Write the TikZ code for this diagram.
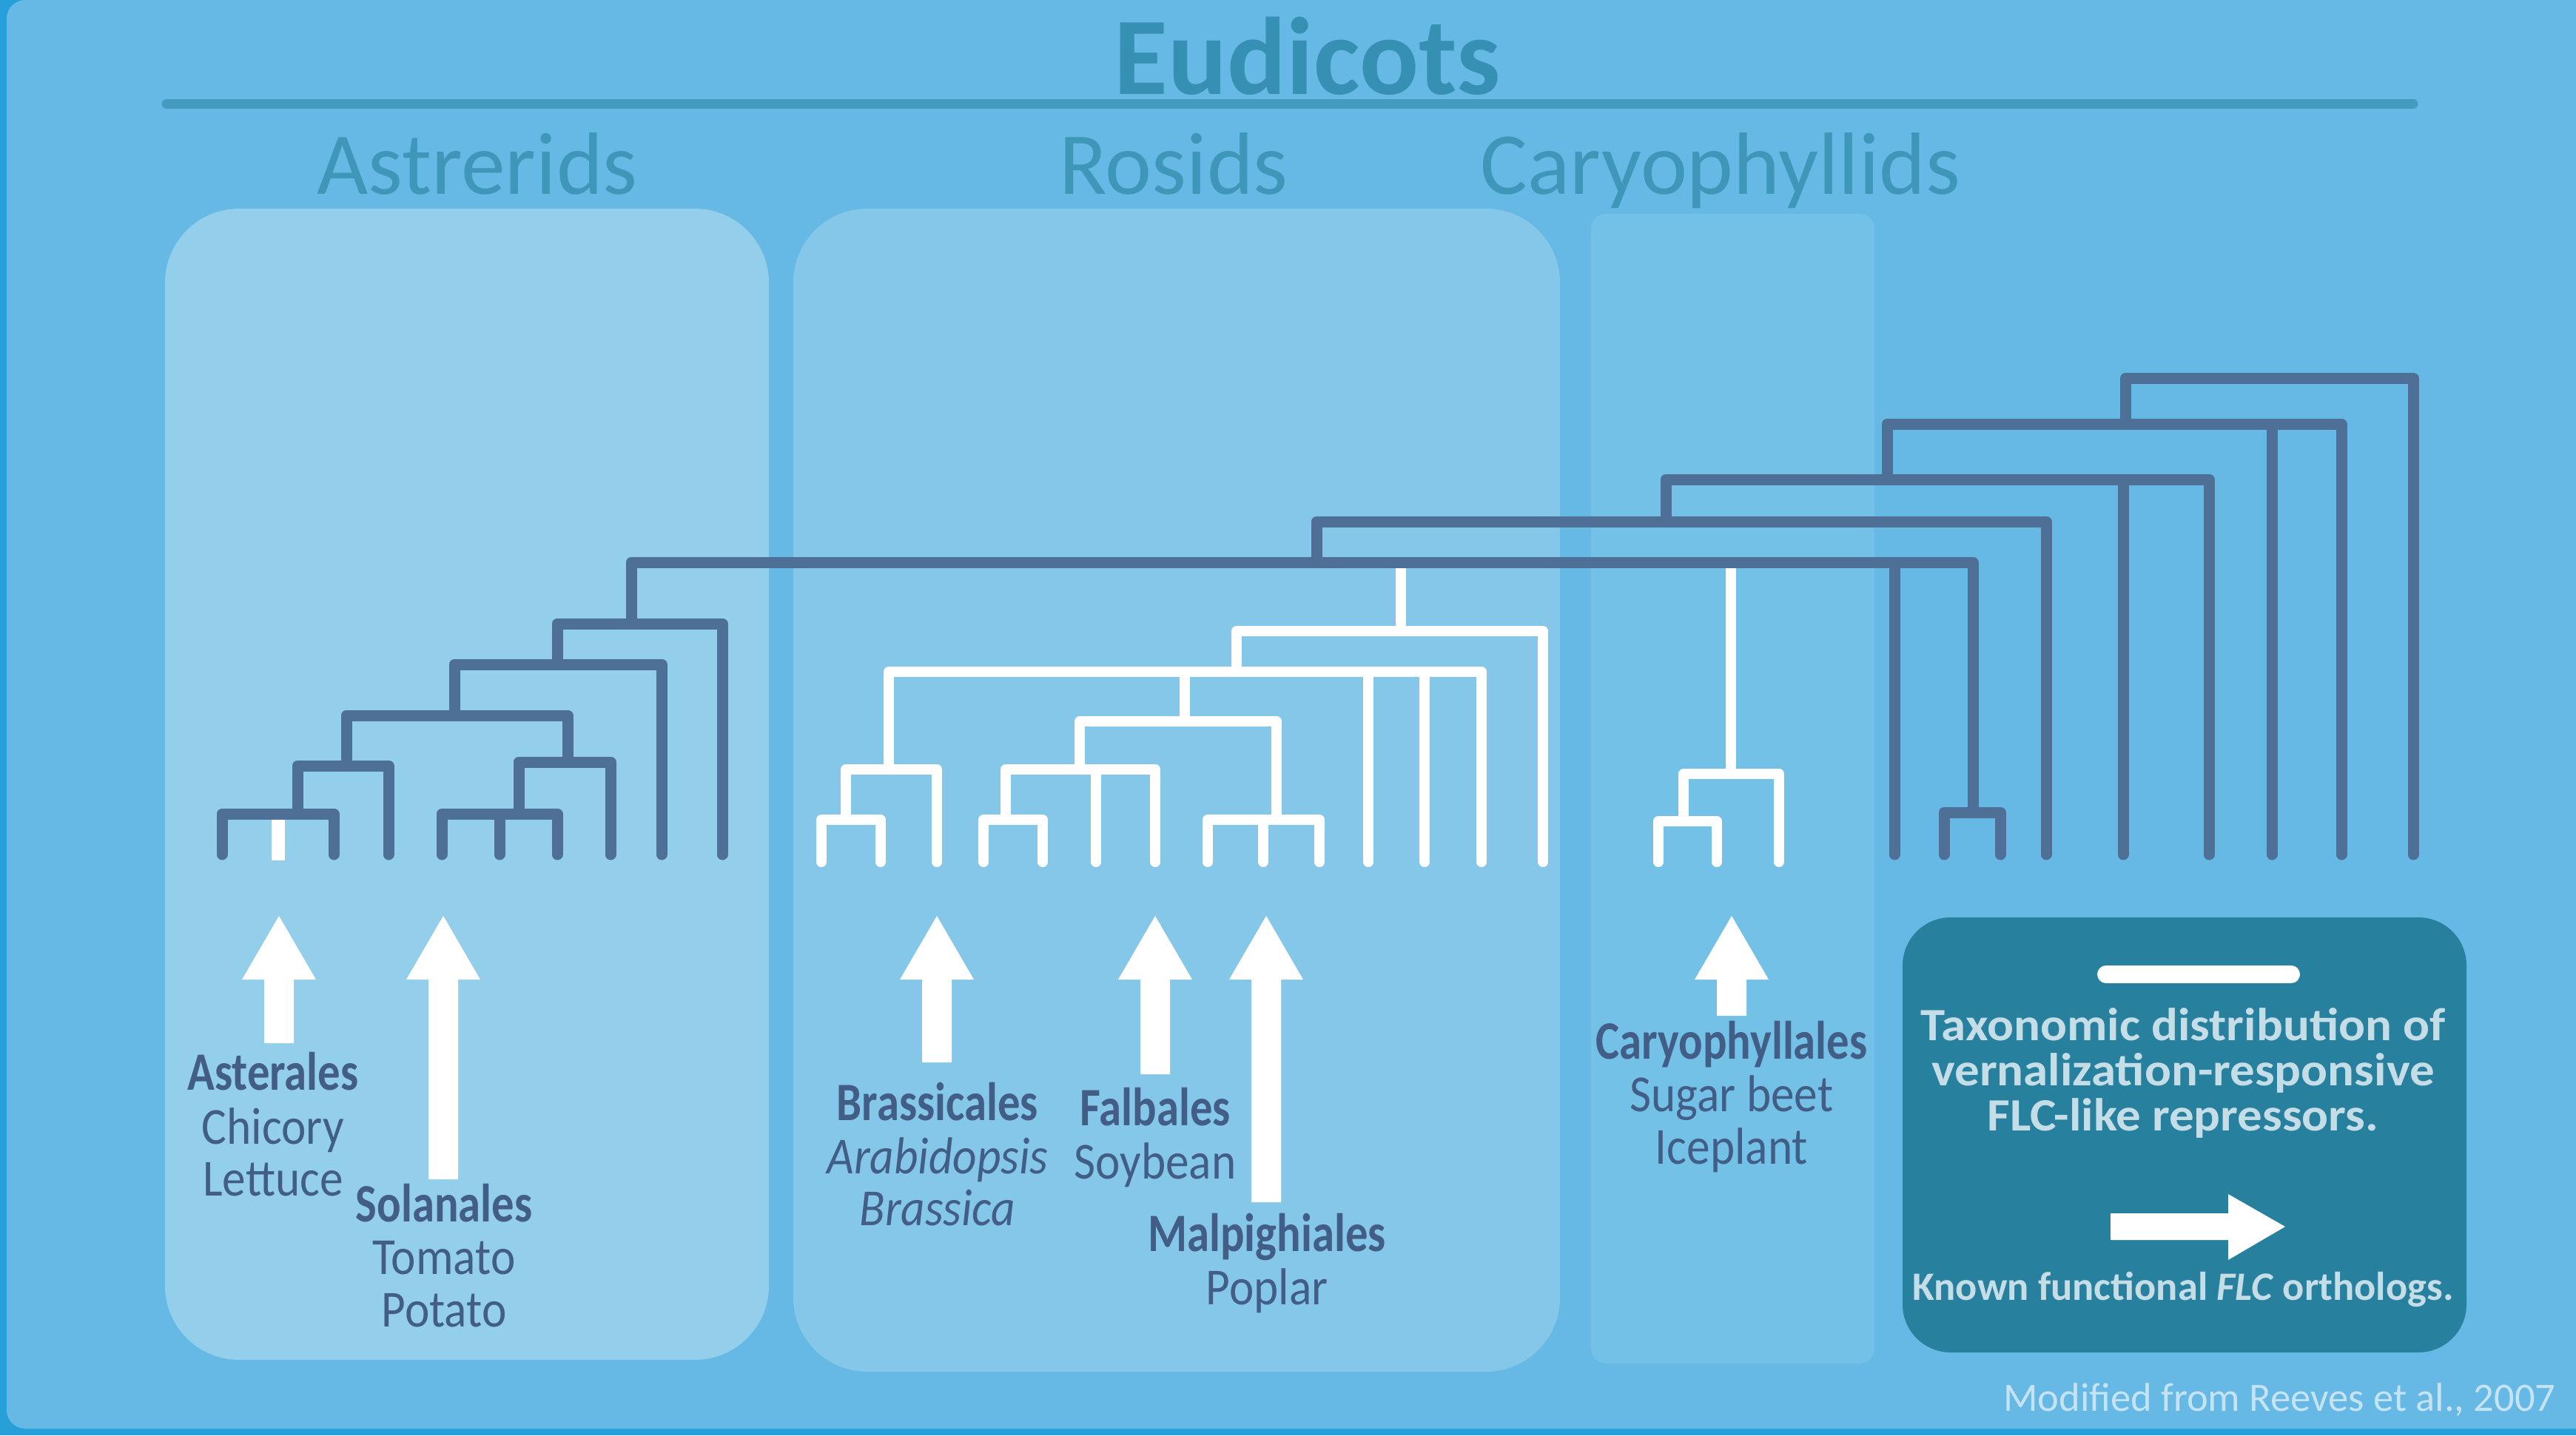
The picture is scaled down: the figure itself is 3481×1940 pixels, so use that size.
\documentclass[tikz,border=0pt]{standalone}
\usepackage{fontspec}
\setmainfont{Carlito}
\newfontfamily\labelfont[FakeStretch=0.9]{Carlito}
\newfontfamily\condfont[FakeStretch=0.83]{Carlito}
\newfontfamily\legendfont[FakeStretch=1.07]{Carlito}
\usetikzlibrary{calc,positioning}
\definecolor{bgdark}{HTML}{27A0DA}
\definecolor{bgmain}{HTML}{66B9E4}
\definecolor{asterfill}{HTML}{93CEEB}
\definecolor{rosidfill}{HTML}{85C7E9}
\definecolor{caryofill}{HTML}{73C1E6}
\definecolor{legendfill}{HTML}{27809D}
\definecolor{treeblue}{HTML}{4E7096}
\definecolor{titleblue}{HTML}{3590B3}
\definecolor{groupblue}{HTML}{3E97B8}
\definecolor{ruleblue}{HTML}{439CC0}
\definecolor{labelblue}{HTML}{425E86}
\definecolor{legendtext}{HTML}{C4DDE6}
\definecolor{creditblue}{HTML}{C5E3F3}
\newcommand{\flcup}[2]{\fill[white] (#1-20,#2) -- (#1-20,1324) -- (#1-50,1324) -- (#1,1238)
  -- (#1+50,1324) -- (#1+20,1324) -- (#1+20,#2) -- cycle;}

\tikzset{
  darkbranch/.style={draw=treeblue, line width=1.5mm, line cap=round, line join=round},
  whitebranch/.style={draw=white, line width=1.4mm, line cap=round, line join=round},
  groupname/.style={font=\fontsize{34}{40}\selectfont, text=groupblue, anchor=base, inner sep=0pt},
  ordername/.style={font=\condfont\bfseries\fontsize{20.8}{24}\selectfont, text=labelblue, anchor=base, inner sep=0pt},
  species/.style={font=\labelfont\fontsize{20}{24}\selectfont, text=labelblue, anchor=base, inner sep=0pt},
  legendline/.style={font=\legendfont\bfseries\fontsize{17.8}{20}\selectfont, text=legendtext, anchor=base, inner sep=0pt}
}

\begin{document}
\begin{tikzpicture}[x=0.1mm, y=-0.1mm]
  \useasboundingbox (0,0) rectangle (3481,1940);

  % Background and group boxes
  \fill[bgdark] (0,0) rectangle (3481,1940);
  \fill[bgmain, rounded corners=2.5mm] (9,0) rectangle (3520,1931);
  \fill[asterfill, rounded corners=10mm] (223,282) rectangle (1039,1838);
  \fill[rosidfill, rounded corners=10mm] (1072,282) rectangle (2108,1854);
  \fill[caryofill, rounded corners=2mm] (2150,289) rectangle (2533,1843);
  \fill[legendfill, rounded corners=6.5mm] (2571,1240) rectangle (3333,1828);

  % Titles
  \node[font=\bfseries\fontsize{42.4}{50}\selectfont, text=titleblue, anchor=base, inner sep=0pt] (eudicots) at (1767,127) {Eudicots};
  \draw[ruleblue, line width=1.3mm, line cap=round] (225,140) -- (3261,140);
  \node[groupname] (asterids) at (645,262) {Astrerids};
  \node[groupname] (rosids) at (1586,262) {Rosids};
  \node[groupname] (caryos) at (2325,262) {Caryophyllids};

  % Leaves and clade points of the dark tree
  \coordinate (a1) at (300,1155);  \coordinate (a3) at (451,1155);  \coordinate (a4) at (525,1155);
  \coordinate (a5) at (597,1155);  \coordinate (a6) at (675,1155);  \coordinate (a7) at (753,1155);
  \coordinate (a8) at (825,1155);  \coordinate (a9) at (894,1155);  \coordinate (a10) at (976,1155);
  \coordinate (d1) at (2560,1155); \coordinate (d2) at (2627,1155); \coordinate (d3) at (2703,1155);
  \coordinate (d4) at (2765,1155); \coordinate (d5) at (2869,1155); \coordinate (d6) at (2985,1155);
  \coordinate (d7) at (3070,1155); \coordinate (d8) at (3164,1155); \coordinate (d9) at (3261,1155);
  \coordinate (nA) at (402,1100);  \coordinate (nB) at (468,1035);  \coordinate (nC) at (701,1100);
  \coordinate (nD) at (767,1030);  \coordinate (nE) at (614,967);   \coordinate (nF) at (753,898);
  \coordinate (nG) at (853,843);   \coordinate (nM) at (1779,760);  \coordinate (nS) at (2666,1098);
  \coordinate (nN) at (2251,705);  \coordinate (nO) at (2550,648);  \coordinate (nP) at (2872,573);
  \coordinate (nQ) at (3066,511);

  % Leaves and clade points of the white trees
  \coordinate (r1) at (1110,1165);  \coordinate (r2) at (1190,1165);  \coordinate (r3) at (1266,1165);
  \coordinate (r4) at (1329,1165);  \coordinate (r5) at (1409,1165);  \coordinate (r6) at (1481,1165);
  \coordinate (r7) at (1561,1165);  \coordinate (r8) at (1632,1165);  \coordinate (r9) at (1707,1165);
  \coordinate (r10) at (1783,1165); \coordinate (r11) at (1849,1165); \coordinate (r12) at (1925,1165);
  \coordinate (r13) at (2002,1165); \coordinate (r14) at (2085,1165);
  \coordinate (nR1) at (1893,853);  \coordinate (nR2) at (1671,908);  \coordinate (nR3) at (1601,975);
  \coordinate (nR4) at (1459,1040); \coordinate (nR5) at (1725,1108); \coordinate (nR6) at (1359,1108);
  \coordinate (nR7) at (1201,1040); \coordinate (nR8) at (1143,1108);
  \coordinate (c1) at (2241,1165);  \coordinate (c2) at (2320,1165);  \coordinate (c3) at (2404,1165);
  \coordinate (nC1) at (2339,1046); \coordinate (nC2) at (2275,1110);

  % White tree for the Rosids
  \draw[whitebranch] (r1) |- (nR8) -| (r2);
  \draw[whitebranch] (nR8) |- (nR7) -| (r3);
  \draw[whitebranch] (r4) |- (nR6) -| (r5);
  \draw[whitebranch] (nR6) |- (nR4) -| (r7);
  \draw[whitebranch] (nR4) -| (r6);
  \draw[whitebranch] (r8) |- (nR5) -| (r10);
  \draw[whitebranch] (nR5) -| (r9);
  \draw[whitebranch] (nR4) |- (nR3) -| (nR5);
  \draw[whitebranch] (nR7) |- (nR2) -| (r13);
  \draw[whitebranch] (nR2) -| (nR3);
  \draw[whitebranch] (nR2) -| (r11);
  \draw[whitebranch] (nR2) -| (r12);
  \draw[whitebranch] (nR2) |- (nR1) -| (r14);
  \draw[whitebranch] (nR1) -- (nR1 |- nM);

  % White tree for the Caryophyllales
  \draw[whitebranch] (c1) |- (nC2) -| (c2);
  \draw[whitebranch] (nC2) |- (nC1) -| (c3);
  \draw[whitebranch] (nC1) -- (nC1 |- nM);
  \fill[white] (367,1107) rectangle (385,1163);

  % Dark tree
  \draw[darkbranch] (a1) |- (nA) -| (a3);
  \draw[darkbranch] (nA) |- (nB) -| (a4);
  \draw[darkbranch] (a5) |- (nC) -| (a7);
  \draw[darkbranch] (nC) -| (a6);
  \draw[darkbranch] (nC) |- (nD) -| (a8);
  \draw[darkbranch] (nB) |- (nE) -| (nD);
  \draw[darkbranch] (nE) |- (nF) -| (a9);
  \draw[darkbranch] (nF) |- (nG) -| (a10);
  \draw[darkbranch] (nG) |- (nM) -| (nS);
  \draw[darkbranch] (nM) -| (d1);
  \draw[darkbranch] (d2) |- (nS) -| (d3);
  \draw[darkbranch] (nM) |- (nN) -| (d4);
  \draw[darkbranch] (nN) |- (nO) -| (d6);
  \draw[darkbranch] (nO) -| (d5);
  \draw[darkbranch] (nO) |- (nP) -| (d8);
  \draw[darkbranch] (nP) -| (d7);
  \draw[darkbranch] (nP) |- (nQ) -| (d9);

  % Arrows for known FLC orthologs
  \flcup{377}{1410}
  \flcup{599}{1594}
  \flcup{1266}{1436}
  \flcup{1561}{1452}
  \flcup{1711}{1625}
  \flcup{2340}{1373}

  % Order labels
  \node[ordername] (asterales) at (369,1473) {Asterales};
  \node[species] (chicory) at ($(asterales.base)+(0,73)$) {Chicory};
  \node[species] (lettuce) at ($(chicory.base)+(0,70)$) {Lettuce};
  \node[ordername] (solanales) at (600,1651) {Solanales};
  \node[species] (tomato) at ($(solanales.base)+(0,71)$) {Tomato};
  \node[species] (potato) at ($(tomato.base)+(0,71)$) {Potato};
  \node[ordername] (brassicales) at (1267,1514) {Brassicales};
  \node[species, font=\labelfont\itshape\fontsize{20}{24}\selectfont] (arabidopsis) at ($(brassicales.base)+(0,72)$) {Arabidopsis};
  \node[species, font=\labelfont\itshape\fontsize{20}{24}\selectfont] (brassica) at ($(arabidopsis.base)+(0,70)$) {Brassica};
  \node[ordername] (falbales) at (1561,1521) {Falbales};
  \node[species] (soybean) at ($(falbales.base)+(0,72)$) {Soybean};
  \node[ordername] (malpighiales) at (1712,1691) {Malpighiales};
  \node[species] (poplar) at ($(malpighiales.base)+(0,72)$) {Poplar};
  \node[ordername] (caryophyllales) at (2340,1431) {Caryophyllales};
  \node[species] (sugarbeet) at ($(caryophyllales.base)+(0,71)$) {Sugar beet};
  \node[species] (iceplant) at ($(sugarbeet.base)+(0,71)$) {Iceplant};

  % Legend
  \draw[white, line width=2.4mm, line cap=round] (2846,1317) -- (3096,1317);
  \node[legendline] (leg1) at (2950,1406) {Taxonomic distribution of};
  \node[legendline] (leg2) at ($(leg1.base)+(0,61)$) {vernalization-responsive};
  \node[legendline] (leg3) at ($(leg2.base)+(0,61)$) {FLC-like repressors.};
  \fill[white] (2852,1640) -- (3011,1640) -- (3011,1614) -- (3088,1658) -- (3011,1703)
    -- (3011,1676) -- (2852,1676) -- cycle;
  \node[legendline, font=\bfseries\fontsize{15.5}{18}\selectfont] (leg4) at (2950,1757) {Known functional \textit{FLC} orthologs.};

  % Source note
  \node[font=\fontsize{15.5}{18}\selectfont, text=creditblue, anchor=base east, inner sep=0pt] (credit) at (3454,1907) {Modified from Reeves et al., 2007};
\end{tikzpicture}
\end{document}
